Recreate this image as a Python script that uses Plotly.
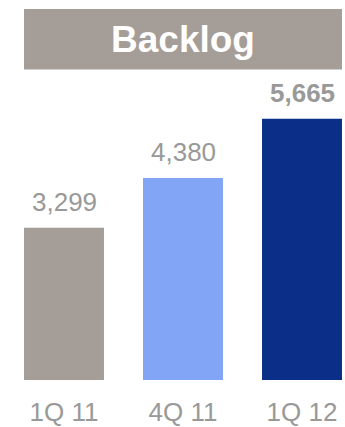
import plotly.graph_objects as go

# Backlog by quarter
quarters = ["1Q 11", "4Q 11", "1Q 12"]
backlog = [3299, 4380, 5665]
value_labels = ["3,299", "4,380", "5,665"]
bar_colors = ["#A59D97", "#82A6F5", "#0B2E88"]
label_bold = [False, False, True]

W, H = 345, 427
FONT = "Arial, Liberation Sans, sans-serif"
GRAY_TEXT = "#999999"

x_idx = list(range(len(quarters)))
bar_w = 0.672

fig = go.Figure()
fig.add_trace(go.Bar(
    x=x_idx,
    y=backlog,
    width=bar_w,
    marker=dict(color=bar_colors, line=dict(width=0)),
    hoverinfo="skip",
))

# value labels above each bar
for i, (v, lab, b) in enumerate(zip(backlog, value_labels, label_bold)):
    fig.add_annotation(
        x=i, y=v, xref="x", yref="y",
        text=f"<b>{lab}</b>" if b else lab,
        showarrow=False, yanchor="bottom", yshift=9,
        font=dict(family=FONT, size=26, color=GRAY_TEXT),
    )

# heading band
x_left = -bar_w / 2
x_right = len(quarters) - 1 + bar_w / 2
fig.add_shape(
    type="rect", xref="x", yref="paper",
    x0=x_left, x1=x_right, y0=(383 - 70) / 383, y1=(383 - 9) / 383,
    fillcolor="#A59D97", line=dict(width=0), layer="below",
)
fig.add_annotation(
    x=(x_left + x_right) / 2, y=(383 - 40) / 383, xref="x", yref="paper",
    text="<b>Backlog</b>", showarrow=False,
    xanchor="center", yanchor="middle",
    font=dict(family=FONT, size=37, color="white"),
)

px_per_unit = 0.0465
fig.update_layout(
    width=W, height=H,
    margin=dict(l=0, r=0, t=0, b=H - 383, pad=0),
    paper_bgcolor="white", plot_bgcolor="white",
    showlegend=False,
    xaxis=dict(
        range=[-64 / 119, (W - 64) / 119],
        tickmode="array", tickvals=x_idx, ticktext=quarters,
        showgrid=False, zeroline=False, showline=False, ticks="",
        ticklabelstandoff=14,
        tickfont=dict(family=FONT, size=26, color=GRAY_TEXT),
        fixedrange=True,
    ),
    yaxis=dict(
        range=[0, 383 / px_per_unit],
        visible=False, showgrid=False, zeroline=False,
        fixedrange=True,
    ),
)

fig.write_html("out.html", config={"displayModeBar": False})
